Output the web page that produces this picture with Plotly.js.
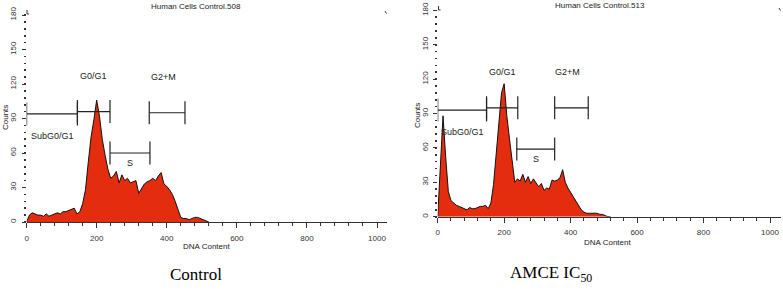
<!DOCTYPE html>
<html><head><meta charset="utf-8">
<script src="https://cdn.plot.ly/plotly-3.0.1.min.js"></script>
<style>html,body{margin:0;padding:0;background:#fff;} #chart{width:783px;height:291px;}</style>
</head><body><div id="chart"></div>
<script>
// ---- data ----
const dnaContent = [0,8,16,24,32,40,48,56,64,72,80,88,96,104,112,120,128,136,144,152,160,168,176,184,192,200,208,216,224,232,240,248,256,264,272,280,288,296,304,312,320,328,336,344,352,360,368,376,384,392,400,408,416,424,432,440,448,456,464,472,480,488,496,504,512,520];
const controlCounts = [0,6,8,7,6,6,5,7,5,6,7,8,7,9,9,10,11,12,7,9,16,28,52,74,89,106,92,72,58,46,38,40,44,34,41,36,38,34,35,36,25,29,33,35,36,38,36,40,43,33,31,28,24,18,10,4,3,3,2,3,4,4,3,2,1,0];
const amceCounts = [0,40,88,52,22,14,12,10,9,8,7,6,8,7,7,8,9,9,10,7,12,28,55,86,108,116,88,68,48,30,33,31,37,30,35,29,33,30,26,29,23,25,24,32,31,32,34,41,30,25,21,17,13,9,6,4,3,3,3,3,3,2,2,1,0,0];

const gateNames = ["SubG0/G1","G0/G1","S","G2+M"];
const controlGateStart = [0,145,238,350];
const controlGateEnd   = [145,238,352,452];
const controlGateLevel = [94,96,60,95];
const amceGateStart = [0,147,238,352];
const amceGateEnd   = [147,241,352,453];
const amceGateLevel = [93,95,59,95];

const xTickVals = [0,200,400,600,800,1000];
const yTickVals = [0,30,60,90,120,150,180];
const panelTitles = ["Human Cells Control.508","Human Cells Control.513"];
const captions = ["Control","AMCE IC<sub>50</sub>"];
const xTitle = "DNA Content";
const yTitle = "Counts";

// ---- styling / layout ----
const W = 783, H = 291;
const px = v => v / W;
const py = v => 1 - v / H;
const RED = '#e42d0e';
const INK = '#333333';
const SANS = 'Liberation Sans, Arial, sans-serif';

const traces = [];
function addPanel(counts, gs, ge, gl, xa, ya) {
  traces.push({
    x: dnaContent, y: counts, xaxis: xa, yaxis: ya, type: 'scatter', mode: 'lines',
    fill: 'tozeroy', fillcolor: RED, line: {color: '#111', width: 1}, hoverinfo: 'skip'
  });
  const gx = [], gy = [];
  const cap = 10;
  for (let i = 0; i < gs.length; i++) {
    gx.push(gs[i], ge[i], null, gs[i], gs[i], null, ge[i], ge[i], null);
    gy.push(gl[i], gl[i], null, gl[i]-cap, gl[i]+cap, null, gl[i]-cap, gl[i]+cap, null);
  }
  traces.push({x: gx, y: gy, xaxis: xa, yaxis: ya, type: 'scatter', mode: 'lines',
    line: {color: '#222', width: 1.2}, hoverinfo: 'skip', cliponaxis: false});
}
addPanel(controlCounts, controlGateStart, controlGateEnd, controlGateLevel, 'x', 'y');
addPanel(amceCounts, amceGateStart, amceGateEnd, amceGateLevel, 'x2', 'y2');

function xAxis(d0, d1, rmax) {
  return {domain: [px(d0), px(d1)], range: [0, rmax], showgrid: false, zeroline: false,
    showline: true, linecolor: INK, linewidth: 1, ticks: 'outside', ticklen: 5, tickwidth: 1,
    tickcolor: INK, tickvals: xTickVals, ticklabelstandoff: 3,
    tickfont: {family: SANS, size: 8, color: INK},
    minor: {dtick: 40, tick0: 0, ticks: 'outside', ticklen: 3, tickwidth: 1, tickcolor: INK, showgrid: false}};
}
function yAxis(top, bottom, rmax, anchor) {
  return {domain: [py(bottom), py(top)], range: [0, rmax], anchor: anchor, showgrid: false,
    zeroline: false, showline: false, ticks: 'outside', ticklen: 4, tickwidth: 1, tickcolor: INK,
    tickvals: yTickVals, tickangle: -90, ticklabelstandoff: 2,
    tickfont: {family: SANS, size: 8, color: INK},
    minor: {dtick: 6, tick0: 0, ticks: 'outside', ticklen: 1.6, tickwidth: 1.6, tickcolor: INK, showgrid: false}};
}

const ann = [];
function label(x, y, text, size, extra) {
  ann.push(Object.assign({xref: 'paper', yref: 'paper', x: px(x), y: py(y), text: text,
    showarrow: false, xanchor: 'center', yanchor: 'middle',
    font: {family: SANS, size: size, color: '#222'}}, extra || {}));
}
label(196, 6, panelTitles[0], 8);
label(600, 5, panelTitles[1], 8);
label(206, 246, xTitle, 8);
label(607, 242, xTitle, 8);
label(5, 118, yTitle, 8, {textangle: -90});
label(417, 116, yTitle, 8, {textangle: -90});
label(196, 274, captions[0], 17, {font: {family: 'Liberation Serif, Times New Roman, serif', size: 17, color: '#000'}});
label(551, 274, captions[1], 17, {font: {family: 'Liberation Serif, Times New Roman, serif', size: 17, color: '#000'}});

// gate labels attached to gate data positions
const gateShift = [[0,-22],[0,36],[0,-10],[-4,36]];
function gateLabels(gs, ge, gl, xr, yr) {
  for (let i = 0; i < gateNames.length; i++) {
    ann.push({xref: xr, yref: yr, x: (gs[i]+ge[i])/2, y: gl[i], text: gateNames[i],
      showarrow: false, xanchor: 'center', yanchor: 'middle',
      xshift: gateShift[i][0], yshift: gateShift[i][1],
      font: {family: SANS, size: 9, color: '#222'}});
  }
}
gateLabels(controlGateStart, controlGateEnd, controlGateLevel, 'x', 'y');
gateLabels(amceGateStart, amceGateEnd, amceGateLevel, 'x2', 'y2');

// small corner marks of the cytometer plot frame
const shapes = [];
function mark(x0, y0, x1, y1) {
  shapes.push({type: 'line', xref: 'paper', yref: 'paper', x0: px(x0), y0: py(y0), x1: px(x1), y1: py(y1),
    line: {color: INK, width: 1}});
}
mark(27, 10, 27, 14); mark(27, 14, 29, 14);
mark(385, 11, 386.5, 13.5);
mark(438.5, 6, 438.5, 10); mark(438.5, 10, 440.5, 10);
mark(779, 8, 780.5, 10.5);

const layout = {
  width: W, height: H, autosize: false, showlegend: false,
  margin: {l: 0, r: 0, t: 0, b: 0, pad: 0},
  paper_bgcolor: '#fff', plot_bgcolor: '#fff',
  xaxis: xAxis(26.6, 387, (387-26.6)/0.3504),
  yaxis: yAxis(12, 222, (222-12)/1.15, 'x'),
  xaxis2: xAxis(437.7, 781, (781-437.7)/0.3323),
  yaxis2: yAxis(8, 216.7, (216.7-8)/1.1464, 'x2'),
  annotations: ann,
  shapes: shapes
};
layout.xaxis.anchor = 'y';
layout.xaxis2.anchor = 'y2';

Plotly.newPlot('chart', traces, layout, {staticPlot: true, displayModeBar: false});
</script>
</body></html>
